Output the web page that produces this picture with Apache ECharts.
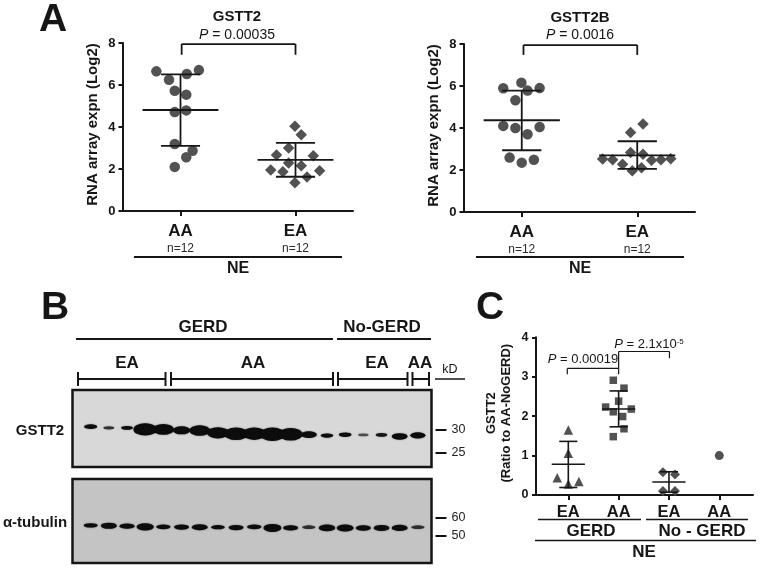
<!DOCTYPE html>
<html><head><meta charset="utf-8">
<style>html,body{margin:0;padding:0;background:#fff}#c{width:760px;height:568px}</style>
<script src="https://cdn.jsdelivr.net/npm/echarts@6/dist/echarts.min.js"></script>
</head><body><div id="c"></div>
<script>
// ---- data ----
const groupsAB = ['AA', 'EA'];
const nLabel = 'n=12';
const groupsC = ['EA', 'AA', 'EA', 'AA'];

const gstt2AA_x = [0.79,0.90,1.055,1.16,0.95,1.05,0.95,1.05,0.95,1.105,1.05,0.95];
const gstt2AA_y = [6.65,6.25,6.52,6.71,5.73,5.54,4.71,4.79,3.19,2.87,2.56,2.10];
const gstt2EA_x = [1.995,2.05,1.94,1.835,2.155,1.94,2.05,1.785,1.89,2.21,2.10,1.995];
const gstt2EA_y = [4.03,3.63,3.00,2.67,2.63,2.29,2.16,1.95,1.87,1.92,1.62,1.35];
const gstt2Stats = [[1,4.81,6.51,3.10],[2,2.43,3.24,1.63]]; // x, mean, upper, lower

const gstt2bAA_x = [0.997,0.84,1.05,1.155,0.945,0.84,0.945,1.155,1.05,0.895,1.105,1.0];
const gstt2bAA_y = [6.16,5.89,5.78,5.90,5.32,4.10,4.00,4.05,3.70,2.59,2.49,2.35];
const gstt2bEA_x = [2.05,1.942,1.942,2.05,1.70,1.787,2.124,2.205,2.29,1.873,2.037,1.957];
const gstt2bEA_y = [4.19,3.79,2.83,2.75,2.52,2.49,2.46,2.49,2.54,2.27,2.11,1.97];
const gstt2bStats = [[1,4.37,5.78,2.94],[2,2.70,3.37,2.05]];

const ratioGerdEA_x = [1,1,0.78,1.21,1];
const ratioGerdEA_y = [1.65,1.06,0.44,0.34,0.28];
const ratioGerdAA_x = [1.894,2.106,2,1.742,2.252,1.894,2.08,2.106,1.894];
const ratioGerdAA_y = [2.91,2.71,2.38,2.23,2.18,2.11,1.99,1.68,1.48];
const ratioNoEA_x = [2.88,3.12,2.88,3.12];
const ratioNoEA_y = [0.58,0.52,0.10,0.10];
const ratioNoAA_x = [4];
const ratioNoAA_y = [1.0];
const ratioStats = [[1,0.78,1.36,0.19],[2,2.18,2.64,1.73],[3,0.33,0.59,0.07]];

// blot: band strength per lane (0..1) and apparent position on the kD scale
const gstt2Band = [.2,.06,.12,.9,.75,.5,.72,.8,.92,.9,1,.92,.4,.17,.18,.03,.1,.38,.34];
const gstt2Kd = [30.65,30.4,30.4,30.05,30.05,29.85,29.8,29.3,29.1,29.1,29,29,28.9,28.7,28.9,28.85,28.85,28.5,28.75];
const tubulinBand = [.2,.6,.4,.85,.25,.4,.55,.15,.4,.3,1,.4,.05,.7,.8,.45,.55,.6,.05];
const tubulinKd = [55.9,55.7,55.5,55.1,55.1,55,54.9,54.9,54.7,55.1,54.5,54.5,54.9,54.5,54.5,54.5,54.5,54.5,54.9];
const gstt2Ticks = [25,30];
const tubulinTicks = [50,60];

// ---- helpers ----
const FONT = '"Liberation Sans", Arial, sans-serif';
const INK = '#161616', DOT = '#525252';
const zip = (xs, ys) => xs.map((x, i) => [x, ys[i]]);

function statSegments(stats, halfMean, halfCap) {
  const segs = [];
  stats.forEach(([x, m, u, l]) => {
    segs.push([x - halfMean, m, x + halfMean, m], [x, u, x, l],
              [x - halfCap, u, x + halfCap, u], [x - halfCap, l, x + halfCap, l]);
  });
  return segs;
}
function segSeries(xi, segs, width) {
  return {
    type: 'custom', xAxisIndex: xi, yAxisIndex: xi, z: 5, clip: false, silent: true,
    data: segs, encode: { x: [0, 2], y: [1, 3] },
    renderItem(p, api) {
      const a = api.coord([api.value(0), api.value(1)]);
      const b = api.coord([api.value(2), api.value(3)]);
      return { type: 'line', shape: { x1: a[0], y1: a[1], x2: b[0], y2: b[1] },
               style: { stroke: INK, lineWidth: width, fill: null } };
    }
  };
}
function dots(xi, data, symbol, size) {
  return { type: 'scatter', xAxisIndex: xi, yAxisIndex: xi, data, symbol, symbolSize: size,
           itemStyle: { color: DOT, opacity: 1 }, z: 3, silent: true };
}
function band(i, s, base, wk, hk, kd, idx) {
  return {
    type: 'scatter', xAxisIndex: idx, yAxisIndex: idx, silent: true, z: 3,
    data: s.map((v, lane) => ({
      value: [lane, kd[lane]],
      symbolSize: [base[0] + wk * v, base[1] + hk * v],
      itemStyle: { opacity: Math.min(1, 0.42 + v * (i ? 6 : 5)) }
    })),
    symbol: 'circle',
    itemStyle: { color: '#0c0c0c', shadowBlur: 1.5, shadowColor: 'rgba(0,0,0,.55)' }
  };
}
const boldLabel = (size) => ({ fontFamily: FONT, fontWeight: 'bold', fontSize: size, color: INK });

function yValueAxis(idx, grid, max, labelSize, tickLen) {
  return {
    type: 'value', gridIndex: grid, min: 0, max, interval: max === 8 ? 2 : 1,
    splitLine: { show: false },
    axisLine: { show: true, onZero: false, lineStyle: { color: INK, width: 2 } },
    axisTick: { show: true, length: tickLen, lineStyle: { color: INK, width: 2 } },
    axisLabel: { margin: 7.5, ...boldLabel(labelSize) }
  };
}
function xGroupAxis(grid, min, max, cats, withN, size, margin) {
  const vals = cats.map((_, i) => i + 1);
  return {
    type: 'value', gridIndex: grid, min, max, position: 'bottom',
    splitLine: { show: false },
    axisLine: { show: true, onZero: false, lineStyle: { color: INK, width: 2 } },
    axisTick: { show: true, length: 5, customValues: vals, lineStyle: { color: INK, width: 2 } },
    axisLabel: {
      show: true, customValues: vals, margin, hideOverlap: false,
      formatter: v => withN ? `{a|${cats[v - 1]}}\n{n|${nLabel}}` : `{a|${cats[v - 1]}}`,
      rich: {
        a: { ...boldLabel(size), lineHeight: 21 },
        n: { fontFamily: FONT, fontSize: 12, color: '#2a2a2a', lineHeight: 14 }
      }
    }
  };
}
const hiddenLaneX = (grid) => ({ type: 'value', gridIndex: grid, min: -1, max: 18.75, show: false });
function kdAxis(grid, min, max, ticks) {
  return {
    type: 'value', gridIndex: grid, min, max, position: 'right', offset: 4,
    splitLine: { show: false },
    axisLine: { show: false, onZero: false },
    axisTick: { show: true, length: 11, customValues: ticks, lineStyle: { color: '#111', width: 2 } },
    axisLabel: { show: true, customValues: ticks, margin: 16, fontFamily: FONT, fontSize: 12.5, color: '#222' }
  };
}

// text and decoration helpers
const T = (x, y, text, size, bold, extra) => ({
  type: 'text', x, y: y + 1, silent: true, z: 20,
  style: { text, fontFamily: FONT, fontSize: size, fontWeight: bold ? 'bold' : 'normal',
           fill: INK, align: 'center', verticalAlign: 'middle', ...(extra || {}) }
});
const L = (x1, y1, x2, y2, w) => ({
  type: 'line', silent: true, z: 20, shape: { x1, y1, x2, y2 }, style: { stroke: INK, lineWidth: w || 2 }
});
const pText = (x, y, rest, size, sup) => T(x, y, `{i|P}{r| = ${rest}}` + (sup ? `{s|${sup}}` : ''), size, false, {
  rich: {
    i: { fontFamily: FONT, fontStyle: 'italic', fontSize: size, fill: INK },
    r: { fontFamily: FONT, fontSize: size, fill: INK },
    s: { fontFamily: FONT, fontSize: size * 0.62, fill: INK, verticalAlign: 'top', padding: [0, 0, 5, 0] }
  }
});

const graphicEls = [
  T(53, 19, 'A', 39, true), T(55, 307, 'B', 39, true), T(490, 307, 'C', 39, true),
  // panel A captions
  T(237, 16, 'GSTT2', 15, true), pText(237, 34, '0.00035', 14),
  L(134, 257, 342, 257, 2), T(238, 268, 'NE', 16, true),
  T(580, 17, 'GSTT2B', 15, true), pText(580, 34, '0.0016', 14),
  L(476, 257, 684, 257, 2), T(580, 268, 'NE', 16, true),
  // panel B captions
  T(203, 326, 'GERD', 17, true), T(382, 326, 'No-GERD', 17, true),
  L(76, 339, 333, 339, 2), L(337, 339, 431, 339, 2),
  T(127, 362, 'EA', 17, true), T(253, 362, 'AA', 17, true), T(377, 362, 'EA', 17, true), T(420, 362, 'AA', 17, true),
  L(78, 379, 165.5, 379, 2), L(171, 379, 333, 379, 2), L(338, 379, 407.5, 379, 2), L(412.5, 379, 429, 379, 2),
  L(78, 372, 78, 386, 2), L(165.5, 372, 165.5, 386, 2), L(171, 372, 171, 386, 2), L(333, 372, 333, 386, 2),
  L(338, 372, 338, 386, 2), L(407.5, 372, 407.5, 386, 2), L(412.5, 372, 412.5, 386, 2), L(429, 372, 429, 386, 2),
  L(435, 379, 465, 379, 1.5), T(450, 369, 'kD', 12.5, false),
  T(40, 430, 'GSTT2', 15, true), T(35, 522, 'α-tubulin', 15, true),
  // panel C captions
  pText(583, 358, '0.00019', 13), pText(649, 343, '2.1x10', 13, '-5'),
  L(538, 519.5, 641, 519.5, 1.5), L(646, 519.5, 748, 519.5, 1.5),
  T(591, 530, 'GERD', 17, true), T(702, 530, 'No - GERD', 17, true),
  L(535, 540.5, 756, 540.5, 1.5), T(644, 551, 'NE', 17, true)
];

const option = {
  animation: false,
  backgroundColor: '#fff',
  grid: [
    { left: 123, top: 43, width: 230, height: 168 },
    { left: 464, top: 44, width: 231, height: 168 },
    { left: 536, top: 337.3, width: 217, height: 157.7 },
    { left: 72.5, top: 390, width: 359, height: 77, show: true, backgroundColor: '#d8d8d8', borderColor: '#151515', borderWidth: 2.5 },
    { left: 72.5, top: 479, width: 359, height: 84, show: true, backgroundColor: '#c4c4c4', borderColor: '#151515', borderWidth: 2.5 }
  ],
  xAxis: [
    xGroupAxis(0, 0.5, 2.5, groupsAB, true, 17, 10),
    xGroupAxis(1, 0.5, 2.5, groupsAB, true, 17, 10),
    xGroupAxis(2, 0.358, 4.67, groupsC, false, 16.5, 7),
    hiddenLaneX(3), hiddenLaneX(4)
  ],
  yAxis: [
    { ...yValueAxis(0, 0, 8, 13, 4.5), name: 'RNA array expn (Log2)', nameLocation: 'middle', nameGap: 23, nameTextStyle: { ...boldLabel(15), padding: [0, 0, 0, 5] } },
    { ...yValueAxis(1, 1, 8, 13, 4.5), name: 'RNA array expn (Log2)', nameLocation: 'middle', nameGap: 23, nameTextStyle: { ...boldLabel(15), padding: [0, 0, 0, 5] } },
    { ...yValueAxis(2, 2, 4, 12.5, 4), name: 'GSTT2\n(Ratio to AA-NoGERD)', nameLocation: 'middle', nameGap: 22, nameTextStyle: { ...boldLabel(13), lineHeight: 15, padding: [0, 0, 0, 6] } },
    kdAxis(3, 21.8, 38.7, gstt2Ticks),
    kdAxis(4, 35, 81.7, tubulinTicks)
  ],
  series: [
    dots(0, zip(gstt2AA_x, gstt2AA_y), 'circle', 10.5),
    dots(0, zip(gstt2EA_x, gstt2EA_y), 'diamond', 11.5),
    segSeries(0, statSegments(gstt2Stats, 0.33, 0.17), 1.8),
    segSeries(0, [[1.01, 7.44, 1.01, 7.95], [1.01, 7.95, 2, 7.95], [2, 7.95, 2, 7.44]], 1.8),

    dots(1, zip(gstt2bAA_x, gstt2bAA_y), 'circle', 10.5),
    dots(1, zip(gstt2bEA_x, gstt2bEA_y), 'diamond', 11.5),
    segSeries(1, statSegments(gstt2bStats, 0.33, 0.17), 1.8),
    segSeries(1, [[1.015, 7.48, 1.015, 7.95], [1.015, 7.95, 2, 7.95], [2, 7.95, 2, 7.48]], 1.8),

    dots(2, zip(ratioGerdEA_x, ratioGerdEA_y), 'triangle', 9.5),
    dots(2, zip(ratioGerdAA_x, ratioGerdAA_y), 'rect', 7.5),
    dots(2, zip(ratioNoEA_x, ratioNoEA_y), 'diamond', 10),
    dots(2, zip(ratioNoAA_x, ratioNoAA_y), 'circle', 9),
    segSeries(2, statSegments(ratioStats, 0.33, 0.18), 1.6),
    segSeries(2, [[0.98, 3.06, 0.98, 3.21], [0.98, 3.21, 2, 3.21], [2, 3.21, 2, 3.06],
                  [2, 3.21, 2, 3.64], [2, 3.64, 3.01, 3.64], [3.01, 3.64, 3.01, 3.47]], 1.2),

    band(0, gstt2Band, [10, 2.5], 15, 11, gstt2Kd, 3),
    band(1, tubulinBand, [13, 3.5], 5, 4.5, tubulinKd, 4)
  ],
  graphic: graphicEls
};
echarts.init(document.getElementById('c'), null, { renderer: 'canvas' }).setOption(option);
</script></body></html>
